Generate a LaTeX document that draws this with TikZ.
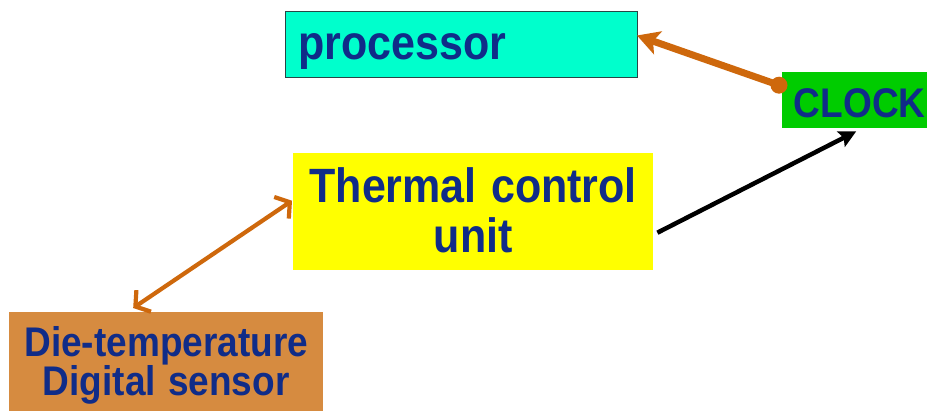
\documentclass[tikz,border=0pt]{standalone}
\usepackage{fontspec}
\setmainfont{Liberation Sans}
\usetikzlibrary{arrows.meta}
\definecolor{cyanbox}{RGB}{0,255,204}
\definecolor{greenbox}{RGB}{0,204,0}
\definecolor{yellowbox}{RGB}{255,255,0}
\definecolor{tanbox}{RGB}{214,139,64}
\definecolor{txtblue}{RGB}{16,44,136}
\definecolor{arrorange}{RGB}{206,104,12}
\definecolor{procedge}{RGB}{40,70,70}
\newcommand{\vstretch}[1]{\scalebox{1}[1.12]{#1}}
\tikzset{
  boxbase/.style={rectangle, inner ysep=0pt, font=\bfseries, text=txtblue},
  linkthick/.style={draw=arrorange, line width=7pt, -{Stealth[length=22pt,width=24pt,inset=5pt]}},
  linkboth/.style={draw=arrorange, line width=4.2pt, {Straight Barb[length=10pt,width=26pt]}-{Straight Barb[length=10pt,width=26pt]}},
  linkblack/.style={draw=black, line width=4.5pt, -{Stealth[length=17pt,width=17pt,inset=3pt]}}
}
\begin{document}
\begin{tikzpicture}[x=1pt,y=1pt]
\useasboundingbox (0,0) rectangle (931,410);
% processor: x 285-637, y(px) 11-77, baseline 59
\node[boxbase, fill=cyanbox, draw=procedge, line width=1pt, anchor=north west,
  inner xsep=13pt, text width=326pt, align=left, text height=48pt, text depth=18pt,
  font=\fontsize{43}{50}\selectfont\bfseries] (proc) at (285,399) {\vstretch{processor}};
% CLOCK: x 782-927, y 72-128, baseline 117
\node[boxbase, fill=greenbox, anchor=north west, inner xsep=0pt, minimum width=145pt,
  text height=45pt, text depth=11pt,
  font=\fontsize{37}{44}\selectfont\bfseries] (clock) at (782,338) {\hspace*{10pt}\vstretch{CLOCK}};
% Thermal control unit: x 293-653, y 153-270, baseline 202
\node[boxbase, fill=yellowbox, anchor=north west, inner xsep=8pt, text width=344pt,
  align=center, text height=49pt, text depth=68pt,
  font=\fontsize{43}{50}\selectfont\bfseries] (tcu) at (293,257) {\vstretch{Thermal control}\\\vstretch{unit}};
% Die-temperature sensor: x 9-323, y 312-415, baseline 356
\node[boxbase, fill=tanbox, anchor=north west, inner xsep=8pt, text width=298pt,
  align=center, text height=44pt, text depth=59pt,
  font=\fontsize{37}{38}\selectfont\bfseries] (die) at (9,98) {\vstretch{Die-temperature}\\\vstretch{Digital sensor}};
% connectors
\coordinate (dot) at ([xshift=-3pt,yshift=15pt]clock.west);
\draw[linkthick] (dot) -- ([xshift=-1pt,yshift=9pt]proc.east);
\fill[arrorange] (dot) circle (8.5pt);
\draw[linkboth] ([xshift=-33pt,yshift=4pt]die.north) -- ([xshift=-1pt,yshift=11pt]tcu.west);
\draw[linkblack] ([xshift=4pt,yshift=-21pt]tcu.east) -- ([xshift=1.5pt,yshift=-3pt]clock.south);
\end{tikzpicture}
\end{document}
